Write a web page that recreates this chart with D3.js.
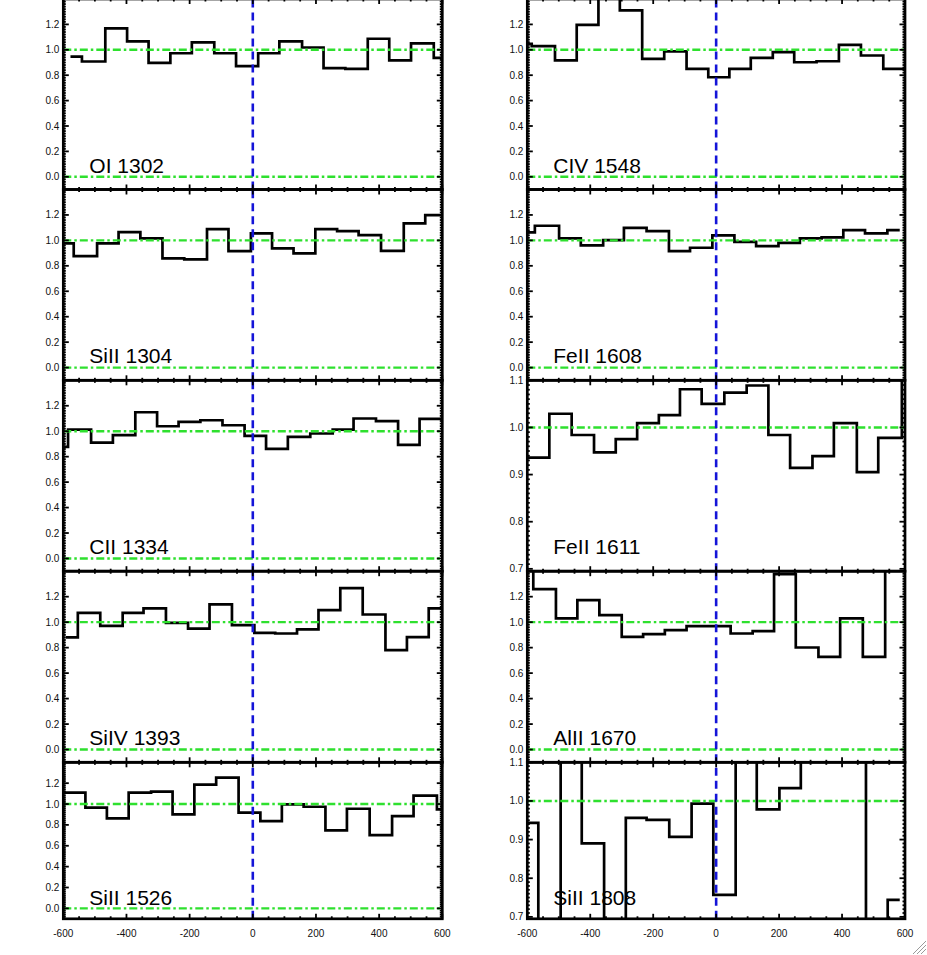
<!DOCTYPE html>
<html><head><meta charset="utf-8">
<script src="https://cdn.jsdelivr.net/npm/d3@7"></script>
<style>html,body{margin:0;padding:0;background:#fff;} svg{display:block;}</style>
</head><body><svg id="c" width="927" height="955"></svg>
<script>
// ---------- data (velocity bin edges in km/s, normalized flux per bin) ----------
const ionLabelsLeft  = ["OI 1302", "SiII 1304", "CII 1334", "SiIV 1393", "SiII 1526"];
const ionLabelsRight = ["CIV 1548", "FeII 1608", "FeII 1611", "AlII 1670", "SiII 1808"];

const edgesOI1302   = [-573, -541, -467, -398, -330, -261, -193, -122, -53, 17, 84, 156, 224, 293, 364, 432, 501, 573, 640];
const fluxOI1302    = [0.947, 0.908, 1.168, 1.066, 0.897, 0.973, 1.058, 0.973, 0.871, 0.973, 1.066, 1.018, 0.855, 0.850, 1.087, 0.916, 1.050, 0.937];

const edgesSiII1304 = [-640, -567, -493, -425, -356, -286, -217, -145, -77, -6, 61, 129, 198, 267, 335, 406, 478, 546, 640];
const fluxSiII1304  = [0.976, 0.876, 0.976, 1.065, 1.016, 0.858, 0.850, 1.089, 0.916, 1.055, 0.937, 0.898, 1.089, 1.073, 1.042, 0.918, 1.134, 1.199];

const edgesCII1334  = [-640, -585, -512, -443, -372, -303, -235, -166, -96, -26, 42, 111, 182, 253, 319, 390, 460, 528, 640];
const fluxCII1334   = [0.877, 1.013, 0.911, 0.969, 1.149, 1.039, 1.073, 1.086, 1.047, 0.963, 0.861, 0.955, 0.982, 1.013, 1.100, 1.079, 0.892, 1.097];

const edgesSiIV1393 = [-588, -554, -483, -412, -346, -275, -205, -137, -66, 5, 71, 140, 208, 277, 348, 420, 488, 557, 640];
const fluxSiIV1393  = [0.880, 1.073, 0.971, 1.073, 1.108, 0.995, 0.950, 1.139, 0.976, 0.916, 0.911, 0.943, 1.094, 1.267, 1.060, 0.780, 0.882, 1.108];

const edgesSiII1526 = [-640, -530, -462, -393, -322, -254, -185, -116, -45, 24, 92, 161, 230, 298, 370, 441, 509, 583, 640];
const fluxSiII1526  = [1.109, 0.965, 0.862, 1.109, 1.119, 0.901, 1.186, 1.253, 0.917, 0.837, 0.997, 0.974, 0.747, 0.955, 0.702, 0.885, 1.080, 0.949];

const edgesCIV1548  = [-640, -586, -512, -443, -374, -306, -235, -165, -94, -25, 42, 110, 180, 248, 319, 390, 460, 531, 640];
const fluxCIV1548   = [1.047, 1.029, 0.916, 1.197, 1.5, 1.310, 0.929, 0.987, 0.850, 0.784, 0.850, 0.937, 0.981, 0.902, 0.910, 1.039, 0.955, 0.850];

const edgesFeII1608 = [-640, -576, -499, -430, -359, -293, -221, -150, -83, -12, 58, 127, 198, 266, 335, 404, 473, 544, 579];
const fluxFeII1608  = [1.063, 1.115, 1.016, 0.961, 1.002, 1.099, 1.073, 0.916, 0.942, 1.039, 0.989, 0.955, 0.981, 1.016, 1.024, 1.081, 1.055, 1.081];

const edgesFeII1611 = [-640, -530, -459, -388, -319, -251, -182, -115, -46, 26, 97, 166, 235, 306, 374, 447, 515, 590, 640];
const fluxFeII1611  = [0.936, 1.029, 0.984, 0.947, 0.975, 1.009, 1.026, 1.081, 1.050, 1.074, 1.089, 0.984, 0.914, 0.939, 1.009, 0.905, 0.978, 1.15];

const edgesAlII1670 = [-640, -581, -509, -441, -371, -300, -232, -163, -94, -25, 46, 116, 184, 253, 325, 394, 466, 537, 640];
const fluxAlII1670  = [1.5, 1.259, 1.029, 1.173, 1.055, 0.885, 0.906, 0.937, 0.969, 0.969, 0.911, 0.929, 1.377, 0.801, 0.727, 1.029, 0.727, 1.5];

const edgesSiII1808 = [-640, -565, -494, -427, -356, -287, -221, -149, -78, -9, 62, 129, 201, 269, 476, 545, 579];
const fluxSiII1808  = [0.943, 0.6, 1.2, 0.890, 0.6, 0.956, 0.951, 0.907, 0.993, 0.757, 1.2, 0.978, 1.033, 1.2, 0.6, 0.744];

const xTickValues     = [-600, -400, -200, 0, 200, 400, 600];
const yTickWide       = [0.0, 0.2, 0.4, 0.6, 0.8, 1.0, 1.2];
const yTickNarrow     = [0.7, 0.8, 0.9, 1.0, 1.1];
const yDomainWide     = [-0.1, 1.4];
const yDomainNarrow   = [0.695, 1.1];
const refLinesWide    = [0.0, 1.0];
const refLinesNarrow  = [1.0];

// ---------- layout ----------
const W = 927, H = 955;
const colX = [[63.3, 442.3], [527.3, 905]];
const rowY = [-1, 189.5, 380.3, 571.2, 762.3, 918.8];
const cBlack = "#000", cGreen = "#2ee02e", cBlue = "#1414d8";

const panels = [
  {col:0,row:0,label:ionLabelsLeft[0], e:edgesOI1302,   f:fluxOI1302,   narrow:false},
  {col:0,row:1,label:ionLabelsLeft[1], e:edgesSiII1304, f:fluxSiII1304, narrow:false},
  {col:0,row:2,label:ionLabelsLeft[2], e:edgesCII1334,  f:fluxCII1334,  narrow:false},
  {col:0,row:3,label:ionLabelsLeft[3], e:edgesSiIV1393, f:fluxSiIV1393, narrow:false},
  {col:0,row:4,label:ionLabelsLeft[4], e:edgesSiII1526, f:fluxSiII1526, narrow:false},
  {col:1,row:0,label:ionLabelsRight[0], e:edgesCIV1548,  f:fluxCIV1548,  narrow:false},
  {col:1,row:1,label:ionLabelsRight[1], e:edgesFeII1608, f:fluxFeII1608, narrow:false},
  {col:1,row:2,label:ionLabelsRight[2], e:edgesFeII1611, f:fluxFeII1611, narrow:true},
  {col:1,row:3,label:ionLabelsRight[3], e:edgesAlII1670, f:fluxAlII1670, narrow:false},
  {col:1,row:4,label:ionLabelsRight[4], e:edgesSiII1808, f:fluxSiII1808, narrow:true},
];

const svg = d3.select("#c");
svg.append("rect").attr("width", W).attr("height", H).attr("fill", "#fff");
const defs = svg.append("defs");

panels.forEach((p, i) => {
  const x0 = colX[p.col][0], x1 = colX[p.col][1];
  const top = rowY[p.row], bot = rowY[p.row + 1];
  const x = d3.scaleLinear().domain([-600, 600]).range([x0, x1]);
  const y = d3.scaleLinear().domain(p.narrow ? yDomainNarrow : yDomainWide).range([bot, top]);
  const g = svg.append("g");

  defs.append("clipPath").attr("id", "clip" + i)
    .append("rect").attr("x", x0).attr("y", top).attr("width", x1 - x0).attr("height", bot - top);
  const inner = g.append("g").attr("clip-path", `url(#clip${i})`);

  // histogram step line
  let d = `M${x(p.e[0])},${y(p.f[0])}H${x(p.e[1])}`;
  for (let k = 1; k < p.f.length; k++) d += `V${y(p.f[k])}H${x(p.e[k + 1])}`;
  inner.append("path").attr("d", d).attr("fill", "none").attr("stroke", cBlack)
    .attr("stroke-width", 2.7).attr("stroke-linejoin", "miter").attr("stroke-linecap", "square");

  // green reference lines
  (p.narrow ? refLinesNarrow : refLinesWide).forEach(v => {
    inner.append("line").attr("x1", x0).attr("x2", x1).attr("y1", y(v)).attr("y2", y(v))
      .attr("stroke", cGreen).attr("stroke-width", 2.4).attr("stroke-dasharray", "8,3,2.5,3");
  });
  // blue v=0 line
  inner.append("line").attr("x1", x(0)).attr("x2", x(0)).attr("y1", bot).attr("y2", top)
    .attr("stroke", cBlue).attr("stroke-width", 2.6).attr("stroke-dasharray", "8,5");

  // ticks
  const tk = g.append("g").attr("stroke", cBlack).attr("stroke-width", 1.8);
  const xMinor = d3.range(-600, 601, 50);
  xMinor.forEach(v => {
    const major = v % 200 === 0;
    const L = major ? 5 : 2.5;
    tk.append("line").attr("x1", x(v)).attr("x2", x(v)).attr("y1", bot).attr("y2", bot - L);
    tk.append("line").attr("x1", x(v)).attr("x2", x(v)).attr("y1", top).attr("y2", top + L);
  });
  const yDom = y.domain();
  const minorStep = p.narrow ? 0.01 : 0.02;
  const majorTicks = p.narrow ? yTickNarrow : yTickWide;
  d3.range(Math.ceil(yDom[0] / minorStep) * minorStep, yDom[1] + 1e-9, minorStep).forEach(v => {
    const isMajor = majorTicks.some(m => Math.abs(m - v) < 1e-6);
    const L = isMajor ? 5.5 : 2.5;
    tk.append("line").attr("x1", x0).attr("x2", x0 + L).attr("y1", y(v)).attr("y2", y(v));
    tk.append("line").attr("x1", x1).attr("x2", x1 - L).attr("y1", y(v)).attr("y2", y(v));
  });

  // frame
  g.append("rect").attr("x", x0).attr("y", top).attr("width", x1 - x0).attr("height", bot - top)
    .attr("fill", "none").attr("stroke", cBlack).attr("stroke-width", 2.7);

  // y tick labels
  majorTicks.forEach(v => {
    g.append("text").attr("x", x0 - 4).attr("y", y(v)).attr("dy", "0.35em")
      .attr("text-anchor", "end").attr("font-family", "Liberation Sans, Arial, sans-serif")
      .attr("font-size", 10).attr("fill", "#111").text(v.toFixed(1));
  });

  // x tick labels on bottom row
  if (p.row === 4) {
    xTickValues.forEach(v => {
      g.append("text").attr("x", x(v)).attr("y", 937).attr("text-anchor", "middle")
        .attr("font-family", "Liberation Sans, Arial, sans-serif").attr("font-size", 10)
        .attr("fill", "#111").text(v);
    });
  }

  // ion label
  g.append("text").attr("x", x0 + 26).attr("y", bot - 0.089 * (bot - top))
    .attr("font-family", "Liberation Sans, Arial, sans-serif").attr("font-size", 21)
    .attr("fill", cBlack).text(p.label);
});

// window resize grip (bottom-right corner)
const grip = svg.append("g").attr("stroke", "#9a9a9a").attr("stroke-width", 1);
[[913, 954, 926, 941], [917, 954, 926, 945], [921, 954, 926, 949]].forEach(s => {
  grip.append("line").attr("x1", s[0]).attr("y1", s[1]).attr("x2", s[2]).attr("y2", s[3]);
});
</script>
</body></html>
